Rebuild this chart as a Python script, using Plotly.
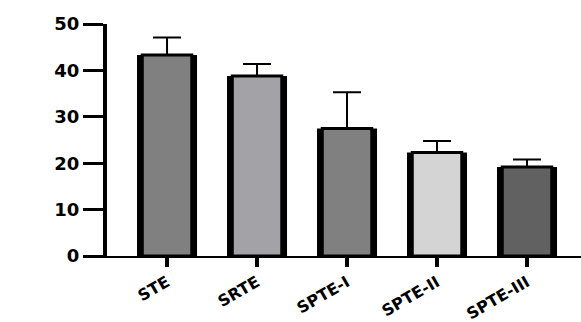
import plotly.graph_objects as go

# Group names, mean values and upper error (SD) for each group
categories = ["STE", "SRTE", "SPTE-I", "SPTE-II", "SPTE-III"]
means = [43.3, 38.8, 27.5, 22.3, 19.2]
errors = [3.8, 2.6, 7.8, 2.5, 1.6]
fill_colors = ["#808080", "#a3a2a7", "#808080", "#d4d4d4", "#616161"]

y_ticks = [0, 10, 20, 30, 40, 50]

y_font = dict(family="DejaVu Sans", size=18, color="black", weight="bold")
x_font = dict(family="DejaVu Sans", size=16, color="black", weight="bold")

fig = go.Figure()

# Black backing bars give the heavy side borders
fig.add_trace(go.Bar(
    x=categories, y=means, width=0.667,
    marker=dict(color="black", line=dict(width=0)),
    hoverinfo="skip", showlegend=False,
))

# Grey fills with thin black outline and upper error bars
fig.add_trace(go.Bar(
    x=categories, y=means, width=0.55,
    marker=dict(color=fill_colors, line=dict(color="black", width=3)),
    error_y=dict(type="data", array=errors, arrayminus=[0] * len(errors),
                 symmetric=False, color="black", thickness=2, width=14),
    showlegend=False,
))

fig.update_layout(
    width=581, height=322,
    margin=dict(l=107, r=0, t=24, b=66),
    paper_bgcolor="white", plot_bgcolor="white",
    barmode="overlay",
    xaxis=dict(
        range=[-0.667, 4.6], automargin=False,
        showline=True, linecolor="black", linewidth=2,
        ticks="outside", ticklen=9, tickwidth=4, tickcolor="black",
        tickangle=-30, tickfont=x_font,
        showgrid=False, zeroline=False,
    ),
    yaxis=dict(
        range=[0, 50], tickvals=y_ticks, automargin=False,
        showline=True, linecolor="black", linewidth=4,
        ticks="outside", ticklen=20, tickwidth=3, tickcolor="black",
        tickfont=y_font,
        showgrid=False, zeroline=False,
    ),
)

fig.write_html("out.html")
